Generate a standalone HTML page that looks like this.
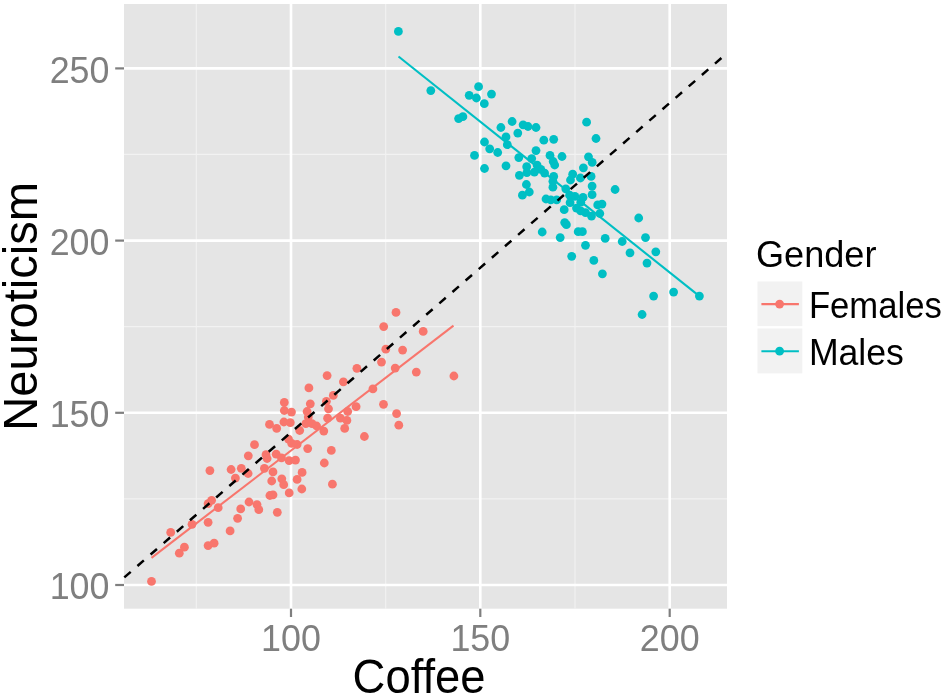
<!DOCTYPE html>
<html><head><meta charset="utf-8"><title>Coffee vs Neuroticism</title>
<style>
html,body{margin:0;padding:0;background:#fff;}
body{width:945px;height:699px;overflow:hidden;}
svg{display:block;font-family:"Liberation Sans",sans-serif;}
.tick{font-size:36.3px;fill:#7f7f7f;}
.leg{font-size:37px;fill:#000;}
.legt{font-size:36px;fill:#000;}
.ttl{font-size:47.3px;fill:#000;}
</style></head><body>
<svg width="945" height="699" viewBox="0 0 945 699">
<rect width="945" height="699" fill="#fff"/>
<rect x="124" y="4" width="603" height="604.7" fill="#e5e5e5"/>
<g>
<line x1="124" x2="727" y1="154.4" y2="154.4" stroke="#f2f2f2" stroke-width="1.1"/>
<line x1="124" x2="727" y1="326.6" y2="326.6" stroke="#f2f2f2" stroke-width="1.1"/>
<line x1="124" x2="727" y1="498.9" y2="498.9" stroke="#f2f2f2" stroke-width="1.1"/>
<line y1="4" y2="608.7" x1="196.3" x2="196.3" stroke="#f2f2f2" stroke-width="1.1"/>
<line y1="4" y2="608.7" x1="385.7" x2="385.7" stroke="#f2f2f2" stroke-width="1.1"/>
<line y1="4" y2="608.7" x1="575.0" x2="575.0" stroke="#f2f2f2" stroke-width="1.1"/>
<line x1="124" x2="727" y1="68.4" y2="68.4" stroke="#fff" stroke-width="2.6"/>
<line x1="124" x2="727" y1="240.6" y2="240.6" stroke="#fff" stroke-width="2.6"/>
<line x1="124" x2="727" y1="412.8" y2="412.8" stroke="#fff" stroke-width="2.6"/>
<line x1="124" x2="727" y1="585.0" y2="585.0" stroke="#fff" stroke-width="2.6"/>
<line y1="4" y2="608.7" x1="291.0" x2="291.0" stroke="#fff" stroke-width="2.6"/>
<line y1="4" y2="608.7" x1="480.3" x2="480.3" stroke="#fff" stroke-width="2.6"/>
<line y1="4" y2="608.7" x1="669.7" x2="669.7" stroke="#fff" stroke-width="2.6"/>
</g>
<g stroke="#7f7f7f" stroke-width="2.2">
<line x1="115.2" x2="124" y1="68.4" y2="68.4"/>
<line x1="115.2" x2="124" y1="240.6" y2="240.6"/>
<line x1="115.2" x2="124" y1="412.8" y2="412.8"/>
<line x1="115.2" x2="124" y1="585.0" y2="585.0"/>
<line y1="608.7" y2="617" x1="291.0" x2="291.0"/>
<line y1="608.7" y2="617" x1="480.3" x2="480.3"/>
<line y1="608.7" y2="617" x1="669.7" x2="669.7"/>
</g>
<g class="tick">
<text x="109.5" y="82.8" text-anchor="end" textLength="59.8" lengthAdjust="spacingAndGlyphs">250</text>
<text x="109.5" y="255.0" text-anchor="end" textLength="59.8" lengthAdjust="spacingAndGlyphs">200</text>
<text x="109.5" y="427.2" text-anchor="end" textLength="59.8" lengthAdjust="spacingAndGlyphs">150</text>
<text x="109.5" y="599.4" text-anchor="end" textLength="59.8" lengthAdjust="spacingAndGlyphs">100</text>
<text x="291.0" y="651.3" text-anchor="middle" textLength="59.8" lengthAdjust="spacingAndGlyphs">100</text>
<text x="480.3" y="651.3" text-anchor="middle" textLength="59.8" lengthAdjust="spacingAndGlyphs">150</text>
<text x="669.7" y="651.3" text-anchor="middle" textLength="59.8" lengthAdjust="spacingAndGlyphs">200</text>
</g>
<g fill="#f8766d">
<circle cx="151.5" cy="581.4" r="4.4"/>
<circle cx="179.3" cy="553.2" r="4.4"/>
<circle cx="184.4" cy="547.2" r="4.4"/>
<circle cx="170.7" cy="532.4" r="4.4"/>
<circle cx="192.0" cy="524.3" r="4.4"/>
<circle cx="208.1" cy="522.3" r="4.4"/>
<circle cx="208.1" cy="545.6" r="4.4"/>
<circle cx="214.1" cy="543.2" r="4.4"/>
<circle cx="230.1" cy="530.9" r="4.4"/>
<circle cx="237.6" cy="518.3" r="4.4"/>
<circle cx="240.7" cy="508.9" r="4.4"/>
<circle cx="218.2" cy="507.7" r="4.4"/>
<circle cx="208.1" cy="503.7" r="4.4"/>
<circle cx="211.6" cy="500.3" r="4.4"/>
<circle cx="249.0" cy="502.0" r="4.4"/>
<circle cx="257.0" cy="504.6" r="4.4"/>
<circle cx="258.8" cy="509.7" r="4.4"/>
<circle cx="269.9" cy="495.5" r="4.4"/>
<circle cx="273.0" cy="494.8" r="4.4"/>
<circle cx="277.3" cy="512.3" r="4.4"/>
<circle cx="209.9" cy="470.6" r="4.4"/>
<circle cx="231.1" cy="469.5" r="4.4"/>
<circle cx="241.3" cy="468.3" r="4.4"/>
<circle cx="235.4" cy="478.1" r="4.4"/>
<circle cx="248.1" cy="473.5" r="4.4"/>
<circle cx="248.3" cy="455.8" r="4.4"/>
<circle cx="254.5" cy="444.7" r="4.4"/>
<circle cx="264.4" cy="468.3" r="4.4"/>
<circle cx="266.0" cy="454.7" r="4.4"/>
<circle cx="267.1" cy="458.5" r="4.4"/>
<circle cx="276.2" cy="454.2" r="4.4"/>
<circle cx="281.5" cy="457.9" r="4.4"/>
<circle cx="289.1" cy="460.6" r="4.4"/>
<circle cx="295.5" cy="460.1" r="4.4"/>
<circle cx="273.0" cy="471.9" r="4.4"/>
<circle cx="271.7" cy="481.0" r="4.4"/>
<circle cx="281.8" cy="478.8" r="4.4"/>
<circle cx="283.7" cy="484.7" r="4.4"/>
<circle cx="297.1" cy="479.4" r="4.4"/>
<circle cx="269.5" cy="424.4" r="4.4"/>
<circle cx="276.7" cy="428.4" r="4.4"/>
<circle cx="283.9" cy="422.0" r="4.4"/>
<circle cx="290.3" cy="422.7" r="4.4"/>
<circle cx="288.5" cy="439.1" r="4.4"/>
<circle cx="291.7" cy="443.4" r="4.4"/>
<circle cx="297.1" cy="444.5" r="4.4"/>
<circle cx="299.7" cy="430.5" r="4.4"/>
<circle cx="364.4" cy="436.5" r="4.4"/>
<circle cx="344.7" cy="428.4" r="4.4"/>
<circle cx="331.3" cy="450.4" r="4.4"/>
<circle cx="324.3" cy="463.0" r="4.4"/>
<circle cx="332.4" cy="484.2" r="4.4"/>
<circle cx="307.7" cy="448.6" r="4.4"/>
<circle cx="302.1" cy="472.4" r="4.4"/>
<circle cx="301.8" cy="489.0" r="4.4"/>
<circle cx="323.8" cy="431.1" r="4.4"/>
<circle cx="316.6" cy="426.0" r="4.4"/>
<circle cx="305.8" cy="423.7" r="4.4"/>
<circle cx="308.3" cy="417.0" r="4.4"/>
<circle cx="312.0" cy="423.6" r="4.4"/>
<circle cx="327.6" cy="418.2" r="4.4"/>
<circle cx="340.4" cy="418.2" r="4.4"/>
<circle cx="346.9" cy="420.4" r="4.4"/>
<circle cx="327.1" cy="375.6" r="4.4"/>
<circle cx="308.9" cy="387.9" r="4.4"/>
<circle cx="284.3" cy="402.4" r="4.4"/>
<circle cx="284.3" cy="410.5" r="4.4"/>
<circle cx="291.5" cy="412.1" r="4.4"/>
<circle cx="310.3" cy="403.8" r="4.4"/>
<circle cx="307.1" cy="411.5" r="4.4"/>
<circle cx="326.4" cy="401.3" r="4.4"/>
<circle cx="333.3" cy="395.4" r="4.4"/>
<circle cx="328.5" cy="408.8" r="4.4"/>
<circle cx="398.8" cy="425.2" r="4.4"/>
<circle cx="396.0" cy="312.4" r="4.4"/>
<circle cx="383.7" cy="326.6" r="4.4"/>
<circle cx="423.2" cy="331.4" r="4.4"/>
<circle cx="385.8" cy="349.2" r="4.4"/>
<circle cx="402.6" cy="350.1" r="4.4"/>
<circle cx="381.5" cy="362.1" r="4.4"/>
<circle cx="395.2" cy="368.1" r="4.4"/>
<circle cx="416.3" cy="372.1" r="4.4"/>
<circle cx="453.9" cy="376.0" r="4.4"/>
<circle cx="356.9" cy="368.3" r="4.4"/>
<circle cx="343.4" cy="381.8" r="4.4"/>
<circle cx="372.9" cy="388.9" r="4.4"/>
<circle cx="383.5" cy="404.3" r="4.4"/>
<circle cx="396.6" cy="413.6" r="4.4"/>
<circle cx="356.1" cy="406.7" r="4.4"/>
<circle cx="347.7" cy="411.5" r="4.4"/>
<circle cx="289.2" cy="492.9" r="4.4"/>
</g>
<g fill="#00bfc4">
<circle cx="398.4" cy="31.4" r="4.4"/>
<circle cx="430.8" cy="90.6" r="4.4"/>
<circle cx="469.2" cy="95.3" r="4.4"/>
<circle cx="476.4" cy="98.0" r="4.4"/>
<circle cx="478.6" cy="86.7" r="4.4"/>
<circle cx="491.5" cy="94.1" r="4.4"/>
<circle cx="484.3" cy="103.7" r="4.4"/>
<circle cx="458.6" cy="118.6" r="4.4"/>
<circle cx="462.9" cy="116.7" r="4.4"/>
<circle cx="500.9" cy="127.5" r="4.4"/>
<circle cx="512.1" cy="121.5" r="4.4"/>
<circle cx="474.5" cy="155.4" r="4.4"/>
<circle cx="484.5" cy="142.0" r="4.4"/>
<circle cx="489.7" cy="148.8" r="4.4"/>
<circle cx="497.7" cy="152.5" r="4.4"/>
<circle cx="484.5" cy="168.5" r="4.4"/>
<circle cx="506.0" cy="136.9" r="4.4"/>
<circle cx="507.3" cy="144.7" r="4.4"/>
<circle cx="506.0" cy="165.8" r="4.4"/>
<circle cx="517.8" cy="133.1" r="4.4"/>
<circle cx="523.1" cy="124.8" r="4.4"/>
<circle cx="528.0" cy="126.5" r="4.4"/>
<circle cx="536.0" cy="127.5" r="4.4"/>
<circle cx="543.8" cy="140.2" r="4.4"/>
<circle cx="553.7" cy="139.3" r="4.4"/>
<circle cx="536.0" cy="150.6" r="4.4"/>
<circle cx="518.8" cy="157.6" r="4.4"/>
<circle cx="531.7" cy="158.6" r="4.4"/>
<circle cx="526.7" cy="166.7" r="4.4"/>
<circle cx="537.1" cy="165.1" r="4.4"/>
<circle cx="519.4" cy="175.3" r="4.4"/>
<circle cx="526.9" cy="172.6" r="4.4"/>
<circle cx="534.4" cy="172.1" r="4.4"/>
<circle cx="540.8" cy="169.4" r="4.4"/>
<circle cx="544.6" cy="173.1" r="4.4"/>
<circle cx="550.0" cy="155.4" r="4.4"/>
<circle cx="553.2" cy="161.5" r="4.4"/>
<circle cx="554.7" cy="165.0" r="4.4"/>
<circle cx="553.7" cy="176.4" r="4.4"/>
<circle cx="586.6" cy="122.2" r="4.4"/>
<circle cx="596.0" cy="138.5" r="4.4"/>
<circle cx="562.0" cy="156.5" r="4.4"/>
<circle cx="588.5" cy="156.8" r="4.4"/>
<circle cx="592.2" cy="162.4" r="4.4"/>
<circle cx="583.4" cy="167.8" r="4.4"/>
<circle cx="572.7" cy="174.2" r="4.4"/>
<circle cx="591.1" cy="176.4" r="4.4"/>
<circle cx="580.4" cy="178.0" r="4.4"/>
<circle cx="570.5" cy="180.0" r="4.4"/>
<circle cx="552.9" cy="181.3" r="4.4"/>
<circle cx="552.9" cy="187.2" r="4.4"/>
<circle cx="526.4" cy="184.5" r="4.4"/>
<circle cx="529.3" cy="192.0" r="4.4"/>
<circle cx="522.4" cy="195.2" r="4.4"/>
<circle cx="546.0" cy="199.0" r="4.4"/>
<circle cx="550.8" cy="199.8" r="4.4"/>
<circle cx="556.7" cy="199.8" r="4.4"/>
<circle cx="565.8" cy="188.8" r="4.4"/>
<circle cx="569.6" cy="195.2" r="4.4"/>
<circle cx="574.9" cy="196.3" r="4.4"/>
<circle cx="570.1" cy="202.7" r="4.4"/>
<circle cx="583.0" cy="197.4" r="4.4"/>
<circle cx="580.8" cy="202.2" r="4.4"/>
<circle cx="576.5" cy="208.1" r="4.4"/>
<circle cx="585.5" cy="212.6" r="4.4"/>
<circle cx="580.6" cy="210.8" r="4.4"/>
<circle cx="564.2" cy="209.7" r="4.4"/>
<circle cx="564.7" cy="222.6" r="4.4"/>
<circle cx="566.4" cy="224.7" r="4.4"/>
<circle cx="542.2" cy="232.0" r="4.4"/>
<circle cx="560.2" cy="237.6" r="4.4"/>
<circle cx="578.2" cy="231.7" r="4.4"/>
<circle cx="582.4" cy="231.7" r="4.4"/>
<circle cx="585.5" cy="245.3" r="4.4"/>
<circle cx="592.1" cy="186.1" r="4.4"/>
<circle cx="592.1" cy="194.7" r="4.4"/>
<circle cx="591.5" cy="216.1" r="4.4"/>
<circle cx="597.7" cy="204.9" r="4.4"/>
<circle cx="602.0" cy="204.1" r="4.4"/>
<circle cx="599.8" cy="213.5" r="4.4"/>
<circle cx="615.1" cy="189.5" r="4.4"/>
<circle cx="638.7" cy="218.0" r="4.4"/>
<circle cx="645.5" cy="237.6" r="4.4"/>
<circle cx="605.2" cy="238.4" r="4.4"/>
<circle cx="622.2" cy="241.5" r="4.4"/>
<circle cx="571.7" cy="256.3" r="4.4"/>
<circle cx="593.8" cy="260.4" r="4.4"/>
<circle cx="602.4" cy="273.8" r="4.4"/>
<circle cx="630.0" cy="252.8" r="4.4"/>
<circle cx="655.8" cy="251.8" r="4.4"/>
<circle cx="647.0" cy="263.1" r="4.4"/>
<circle cx="653.6" cy="296.1" r="4.4"/>
<circle cx="673.6" cy="292.1" r="4.4"/>
<circle cx="699.4" cy="296.1" r="4.4"/>
<circle cx="642.1" cy="314.5" r="4.4"/>
</g>
<line x1="151.5" y1="557.8" x2="453.5" y2="325.7" stroke="#f8766d" stroke-width="2.1"/>
<line x1="398.5" y1="56.5" x2="699.4" y2="296.1" stroke="#00bfc4" stroke-width="2.1"/>
<line x1="124.3" y1="577.4" x2="721.4" y2="58.0" stroke="#000" stroke-width="2.5" stroke-dasharray="8.5 8.898"/>
<text class="ttl" x="352.6" y="692.5" textLength="133" lengthAdjust="spacingAndGlyphs">Coffee</text>
<text class="ttl" transform="translate(37.2,430.7) rotate(-90)" textLength="248.8" lengthAdjust="spacingAndGlyphs">Neuroticism</text>
<text class="legt" x="756" y="266.7" textLength="120.4" lengthAdjust="spacingAndGlyphs">Gender</text>
<rect x="757.5" y="281.5" width="44.8" height="44.6" fill="#f2f2f2"/>
<rect x="757.5" y="328.5" width="44.8" height="44.9" fill="#f2f2f2"/>
<line x1="761.4" x2="798.9" y1="304.1" y2="304.1" stroke="#f8766d" stroke-width="2.1"/>
<circle cx="779.6" cy="304.1" r="4.4" fill="#f8766d"/>
<line x1="761.4" x2="798.9" y1="351.2" y2="351.2" stroke="#00bfc4" stroke-width="2.1"/>
<circle cx="779.6" cy="351.2" r="4.4" fill="#00bfc4"/>
<text class="leg" x="808.9" y="318.2" textLength="132.9" lengthAdjust="spacingAndGlyphs">Females</text>
<text class="leg" x="808.9" y="364.9" textLength="95" lengthAdjust="spacingAndGlyphs">Males</text>
</svg>
</body></html>
